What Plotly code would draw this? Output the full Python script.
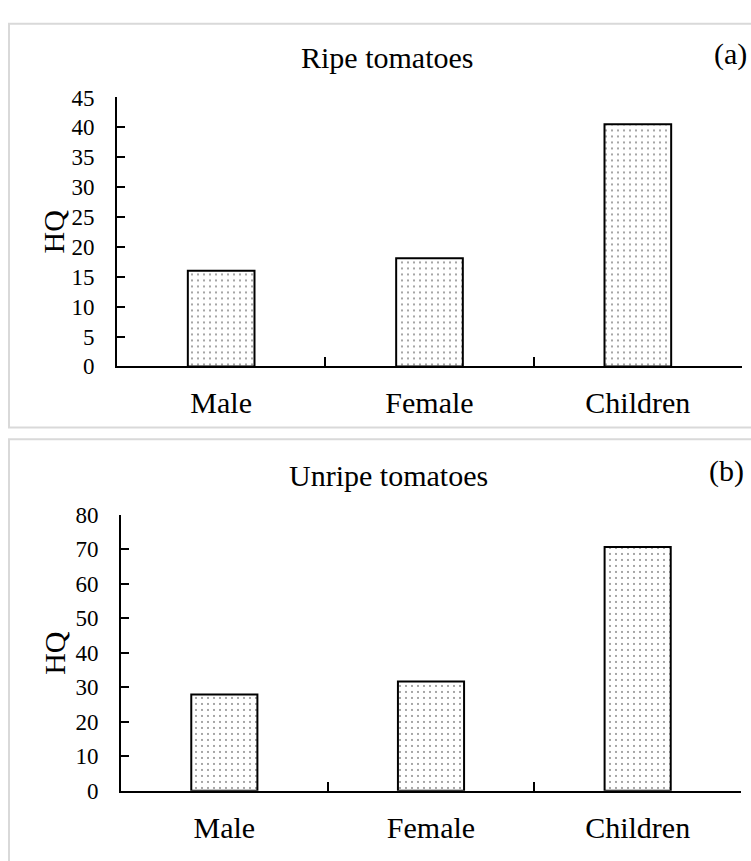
import plotly.graph_objects as go

W, H = 751, 861

categories = ["Male", "Female", "Children"]
ripe_hq = [16.0, 18.1, 40.5]
unripe_hq = [27.9, 31.7, 70.7]
ripe_ticks = list(range(0, 50, 5))
unripe_ticks = list(range(0, 90, 10))
panel_titles = ["Ripe tomatoes", "Unripe tomatoes"]
panel_tags = ["(a)", "(b)"]
y_title = "HQ"

FONT = "Liberation Serif"


def px(x):
    return x / W


def py(y):
    return 1 - y / H


bar_marker = dict(
    color="white",
    line=dict(color="black", width=2),
    pattern=dict(shape=".", fgcolor="#222222", bgcolor="white", size=6, solidity=0.1),
)

fig = go.Figure()
fig.add_trace(go.Bar(x=categories, y=ripe_hq, width=0.32, marker=bar_marker,
                     xaxis="x", yaxis="y", showlegend=False))
fig.add_trace(go.Bar(x=categories, y=unripe_hq, width=0.32, marker=bar_marker,
                     xaxis="x2", yaxis="y2", showlegend=False))

xcommon = dict(
    type="category", range=[-0.5, 2.5], showline=True, linecolor="black", linewidth=2,
    ticks="inside", tickson="boundaries", ticklen=9, tickwidth=2, tickcolor="black",
    showgrid=False, zeroline=False, fixedrange=True,
    tickfont=dict(family=FONT, size=30, color="black"), ticklabelstandoff=9,
)
ycommon = dict(
    showline=True, linecolor="black", linewidth=2, ticks="inside", ticklen=8,
    tickwidth=2, tickcolor="black", showgrid=False, zeroline=False, fixedrange=True,
    tickfont=dict(family=FONT, size=23, color="black"), ticklabelstandoff=16,
)

layout = dict(
    width=W, height=H, autosize=False,
    margin=dict(l=0, r=0, t=0, b=0),
    paper_bgcolor="white", plot_bgcolor="white",
    xaxis=dict(xcommon, domain=[px(117), px(742)], anchor="y"),
    yaxis=dict(ycommon, domain=[py(365), py(88)], anchor="x", range=[0, 45],
               tickvals=ripe_ticks),
    xaxis2=dict(xcommon, domain=[px(121), px(741)], anchor="y2"),
    yaxis2=dict(ycommon, domain=[py(802), py(518)], anchor="x2", range=[0, 80],
                tickvals=unripe_ticks),
    bargap=0.68,
)
fig.update_layout(**layout)

# panel borders
for (y0, y1) in [(12, 428), (440, 880)]:
    fig.add_shape(type="rect", xref="paper", yref="paper",
                  x0=px(9), x1=px(770), y0=py(y1), y1=py(y0),
                  line=dict(color="#d9d9d9", width=2), fillcolor="rgba(0,0,0,0)")

annos = []
title_pos = [(387, 47), (388, 477)]
tag_pos = [(730, 43), (726, 473)]
hq_pos = [(53, 226), (55, 660)]
for i in range(2):
    annos.append(dict(text=panel_titles[i], x=px(title_pos[i][0]), y=py(title_pos[i][1]),
                      xref="paper", yref="paper", showarrow=False,
                      xanchor="center", yanchor="middle",
                      font=dict(family=FONT, size=30, color="black")))
    annos.append(dict(text=panel_tags[i], x=px(tag_pos[i][0]), y=py(tag_pos[i][1]),
                      xref="paper", yref="paper", showarrow=False,
                      xanchor="center", yanchor="middle",
                      font=dict(family=FONT, size=30, color="black")))
    annos.append(dict(text=y_title, x=px(hq_pos[i][0]), y=py(hq_pos[i][1]),
                      xref="paper", yref="paper", showarrow=False, textangle=-90,
                      xanchor="center", yanchor="middle",
                      font=dict(family=FONT, size=30, color="black")))
fig.update_layout(annotations=annos)

fig.write_html(
    "out.html",
    config={"displayModeBar": False},
    post_script="document.body.style.margin='0';document.body.style.padding='0';",
)
